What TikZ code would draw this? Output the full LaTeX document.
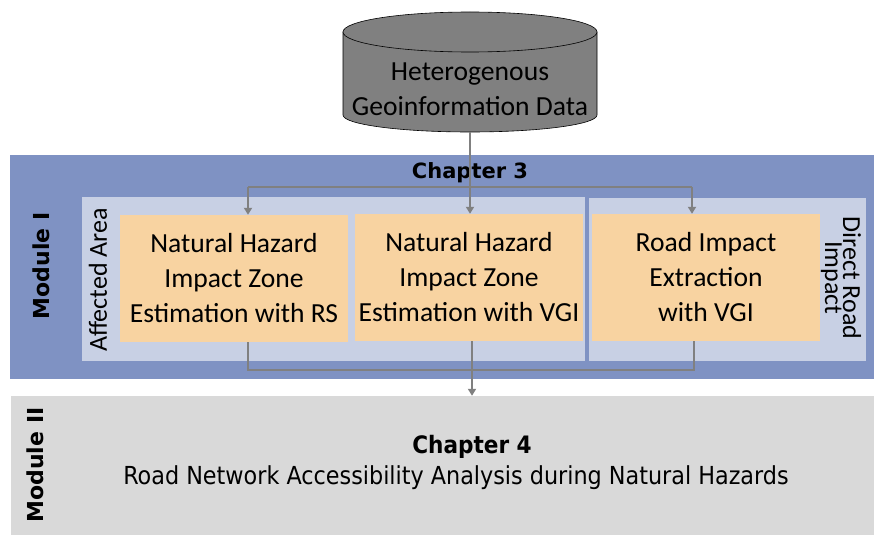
\documentclass[tikz,border=0pt]{standalone}
\usepackage{fontspec}
\setmainfont{Carlito}
\newfontfamily\verdfont{DejaVu Sans}
\newfontfamily\condfont{DejaVu Sans Condensed}[BoldFont={DejaVu Sans Condensed Bold}]
\usetikzlibrary{arrows.meta}

\definecolor{modA}{RGB}{127,146,195}
\definecolor{panel}{RGB}{200,208,228}
\definecolor{task}{RGB}{248,211,161}
\definecolor{modB}{RGB}{217,217,217}
\definecolor{dbfill}{RGB}{128,128,128}
\definecolor{link}{RGB}{128,128,128}

\tikzset{
  area/.style={draw=none, inner sep=0pt, minimum width=#1},
  taskbox/.style={fill=task, draw=none, inner sep=0pt, minimum width=228pt,
    minimum height=127pt, align=center, font=\fontsize{27.6}{35}\selectfont},
  bodytext/.style={inner sep=0pt, align=center, font=\fontsize{26}{18}\selectfont},
  modlabel/.style={inner sep=0pt, rotate=90, font=\verdfont\bfseries\fontsize{22}{26}\selectfont},
  conn/.style={draw=link, line width=1.8pt},
  tip/.style={-{Triangle[width=8pt,length=7pt]}}
}

\begin{document}
\begin{tikzpicture}[x=1pt, y=-1pt]
\useasboundingbox (0,0) rectangle (874,535);

% data source cylinder
\path[fill=dbfill, draw=black, line width=0.6pt]
  (343,32) -- (343,115) arc[start angle=180, end angle=360, x radius=127pt, y radius=17pt]
  -- (597,32) -- cycle;
\draw[fill=dbfill, draw=black, line width=0.6pt] (470,32) ellipse[x radius=127pt, y radius=20pt];
\node[inner sep=0pt, align=center, font=\fontsize{27.6}{35}\selectfont] (db) at (470,89)
  {Heterogenous\\Geoinformation Data};
\coordinate (dbbase) at (470,132);

% module I: chapter 3
\node[fill=modA, area=864pt, minimum height=224pt] (mod1) at (442,267) {};
\node[inner sep=0pt, font=\verdfont\bfseries\fontsize{21}{25}\selectfont] (ch3) at (470,173) {Chapter 3};
\node[modlabel] (m1lab) at (41,266) {Module I};
\node[fill=panel, area=503pt, minimum height=164pt] (pa) at (333.5,279) {};
\node[fill=panel, area=277pt, minimum height=163pt] (pb) at (727.5,279.5) {};
\node[bodytext, rotate=90] (aff) at (98,280) {Affected Area};
\node[bodytext, rotate=-90] (dir) at (841,278) {Direct Road\\Impact};

\node[taskbox] (b1) at (234,278.5) {Natural Hazard\\Impact Zone\\Estimation with RS};
\node[taskbox] (b2) at (469,277.5) {Natural Hazard\\Impact Zone\\Estimation with VGI};
\node[taskbox] (b3) at (706,277.5) {Road Impact\\Extraction\\with VGI};

% module II: chapter 4
\node[fill=modB, area=863pt, minimum height=139pt] (mod2) at (442.5,465.5) {};
\node[modlabel] (m2lab) at (35,465) {Module II};
\node[inner sep=0pt, font=\condfont\bfseries\fontsize{24}{28}\selectfont] (ch4) at (472,447) {Chapter 4};
\node[inner sep=0pt, font=\condfont\fontsize{24.8}{28}\selectfont] (sub) at (456,478)
  {Road Network Accessibility Analysis during Natural Hazards};

% distribution of the data to the three tasks
\coordinate (busl) at (248,187);
\coordinate (busr) at (692,187);
\draw[conn] (busl) -- (busr);
\draw[conn, tip] (dbbase) -- (dbbase |- b2.north);
\draw[conn, tip] (busl) -- (busl |- b1.north);
\draw[conn, tip] (busr) -- (busr |- b3.north);

% results merged towards module II
\coordinate (jl) at (248,370);
\coordinate (jr) at (694,370);
\draw[conn] (jl |- b1.south) -- (jl) -- (jr) -- (jr |- b3.south);
\draw[conn, tip] ([xshift=3pt]b2.south) -- ([xshift=3pt]b2.south |- mod2.north);
\end{tikzpicture}
\end{document}
